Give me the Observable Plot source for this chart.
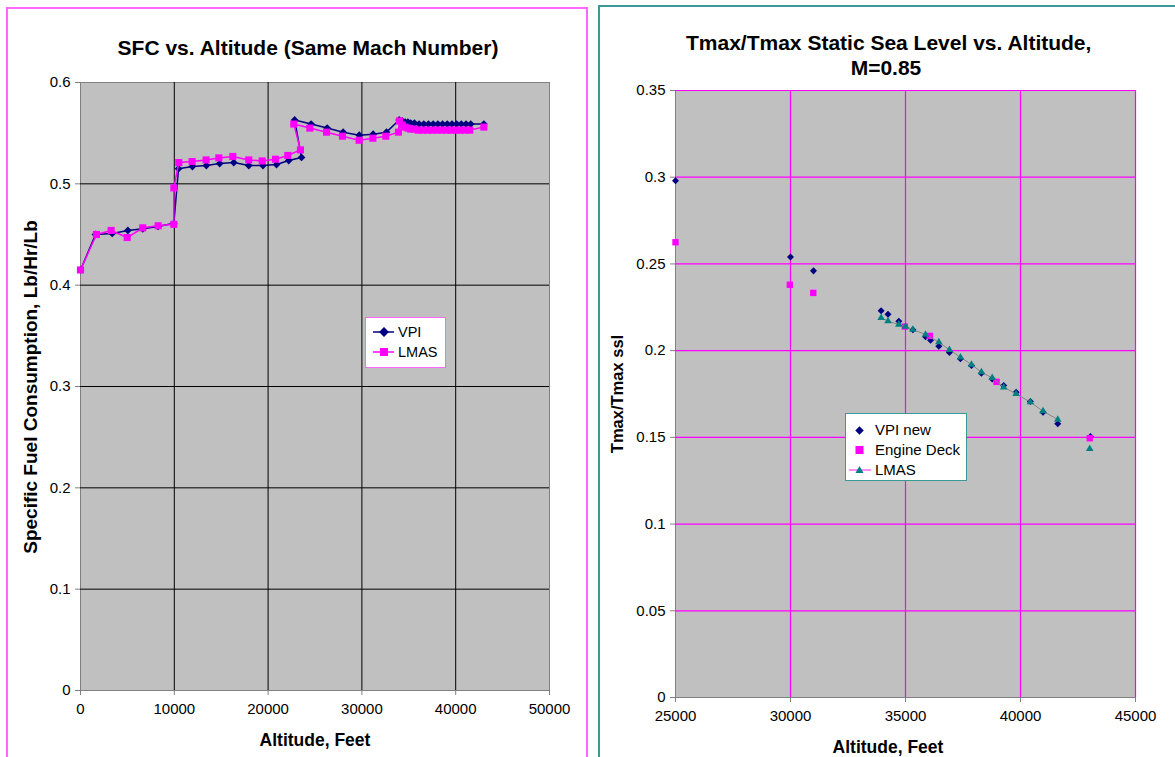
<!DOCTYPE html>
<html><head><meta charset="utf-8">
<script src="https://cdn.jsdelivr.net/npm/d3@7"></script>
<script src="https://cdn.jsdelivr.net/npm/@observablehq/plot@0.6"></script>
<style>
body{margin:0;background:#fff;font-family:"Liberation Sans",Arial,sans-serif;color:#000;}
#page{position:relative;width:1175px;height:757px;overflow:hidden;}
.panel{position:absolute;box-sizing:border-box;}
.title{position:absolute;font-weight:bold;font-size:21px;text-align:center;white-space:nowrap;line-height:25px;}
.alabel{position:absolute;font-weight:bold;font-size:17.5px;white-space:nowrap;line-height:22px;text-align:center;}
.chart{position:absolute;top:0;}
.legend{position:absolute;background:#fff;box-sizing:border-box;}
.legend span{position:absolute;white-space:nowrap;line-height:18px;}
.legend svg{position:absolute;left:0;top:0;}
</style></head>
<body><div id="page">
<div class="panel" style="left:6px;top:7px;width:582px;height:800px;border:2px solid #ff66ff;"></div>
<div class="panel" style="left:598px;top:5px;width:650px;height:800px;border:2px solid #3a9a9a;"></div>
<div id="left" class="chart" style="left:0;"></div>
<div id="right" class="chart" style="left:600px;"></div>
<div class="title" style="left:108px;width:400px;top:35px;">SFC vs. Altitude (Same Mach Number)</div>
<div class="title" style="left:686px;width:400px;top:30px;">Tmax/Tmax Static Sea Level vs. Altitude,<br>M=0.85</div>
<div class="alabel" style="left:215px;width:200px;top:729px;">Altitude, Feet</div>
<div class="alabel" style="left:788px;width:200px;top:736px;">Altitude, Feet</div>
<div class="alabel" style="left:-169px;width:400px;top:376px;transform:rotate(-90deg);font-size:19px;">Specific Fuel Consumption, Lb/Hr/Lb</div>
<div class="alabel" style="left:517px;width:200px;top:383px;transform:rotate(-90deg);font-size:16.5px;">Tmax/Tmax ssl</div>
<div class="legend" style="left:365px;top:317px;width:81px;height:51px;border:1px solid #ff66ff;font-size:14.5px;">
  <svg width="81" height="51">
    <line x1="7" x2="28" y1="14" y2="14" stroke="#000080" stroke-width="1.5"/>
    <rect x="14.5" y="10.5" width="7" height="7" fill="#000080" transform="rotate(45 18 14)"/>
    <line x1="7" x2="28" y1="34" y2="34" stroke="#ff00ff" stroke-width="1.5"/>
    <rect x="14" y="30" width="8" height="8" fill="#ff00ff"/>
  </svg>
  <span style="left:32px;top:5px;">VPI</span>
  <span style="left:32px;top:25px;">LMAS</span>
</div>
<div class="legend" style="left:845px;top:413px;width:122px;height:68px;border:1px solid #3a9a9a;font-size:15px;">
  <svg width="122" height="68">
    <rect x="10.5" y="13.5" width="6" height="6" fill="#000080" transform="rotate(45 13.5 16.5)"/>
    <rect x="9.5" y="32" width="8" height="8" fill="#ff00ff"/>
    <line x1="3" x2="25" y1="56" y2="56" stroke="#ff66ff" stroke-width="1.5"/>
    <path d="M13.5,52 L17.5,59 L9.5,59 Z" fill="#008080"/>
  </svg>
  <span style="left:29px;top:7px;">VPI new</span>
  <span style="left:29px;top:27px;">Engine Deck</span>
  <span style="left:29px;top:47px;">LMAS</span>
</div>
</div>
<script>
// ---- Left chart: SFC vs Altitude ----
const sfcXTicks = [0, 10000, 20000, 30000, 40000, 50000];
const sfcYTicks = [0, 0.1, 0.2, 0.3, 0.4, 0.5, 0.6];
const sfcVpiAlt = [0,1600,3380,5050,6640,8280,9950,10450,11930,13420,14840,16340,17940,19450,20900,22200,23560,22830,24590,26300,28000,29720,31200,32620,33970,34300,34600,34900,35200,35600,36100,36600,37100,37600,38100,38600,39100,39600,40100,40600,41100,41600,43000];
const sfcVpi = [0.415,0.450,0.451,0.454,0.4556,0.458,0.461,0.515,0.517,0.518,0.520,0.521,0.518,0.518,0.519,0.523,0.526,0.563,0.559,0.555,0.551,0.548,0.549,0.551,0.563,0.562,0.561,0.561,0.560,0.560,0.559,0.559,0.559,0.559,0.559,0.559,0.559,0.559,0.559,0.559,0.559,0.559,0.559];
const sfcLmasAlt = [0,1700,3270,4980,6640,8280,9950,9950,10480,11900,13390,14750,16240,17940,19370,20790,22100,23450,22740,24450,26230,27930,29710,31170,32550,33900,34000,34300,34600,34900,35200,35600,36000,36500,37000,37500,38000,38500,39000,39500,40000,40500,41000,41500,43000];
const sfcLmas = [0.415,0.450,0.454,0.447,0.4566,0.4586,0.460,0.496,0.521,0.522,0.5236,0.5256,0.527,0.5236,0.5226,0.5243,0.528,0.5335,0.559,0.555,0.551,0.547,0.543,0.545,0.547,0.551,0.562,0.558,0.556,0.555,0.554,0.554,0.553,0.553,0.553,0.553,0.553,0.553,0.553,0.553,0.553,0.553,0.553,0.553,0.556];

// ---- Right chart: Tmax ratio vs Altitude ----
const tXTicks = [25000, 30000, 35000, 40000, 45000];
const tYTicks = [0, 0.05, 0.1, 0.15, 0.2, 0.25, 0.3, 0.35];
const tVpiAlt = [25000,30000,31000,33940,34240,34710,35320,35870,36090,36450,36910,37390,37870,38300,38770,39270,39810,40430,40980,41620,43040];
const tVpi = [0.298,0.254,0.246,0.223,0.221,0.217,0.212,0.208,0.206,0.2026,0.199,0.1953,0.1914,0.187,0.1837,0.1799,0.176,0.1707,0.1645,0.1578,0.1505];
const tDeckAlt = [25000,29970,30990,34970,36060,38960,43010];
const tDeck = [0.2625,0.238,0.2333,0.2139,0.2085,0.182,0.1495];
const tLmasAlt = [33940,34240,34710,35000,35320,35870,36450,36910,37390,37870,38300,38770,39270,39810,40430,40980,41620,43010];
const tLmas = [0.2189,0.217,0.2151,0.2139,0.2122,0.2093,0.2049,0.2005,0.1962,0.192,0.1876,0.1843,0.1789,0.1751,0.1703,0.1651,0.1603,0.1434];

const zip = (xs, ys) => xs.map((x, i) => ({x, y: ys[i]}));
const fmt = d => String(d);
const font = {fontFamily: "'Liberation Sans', Arial, sans-serif", fontSize: "15px", background: "transparent", color: "#000", overflow: "visible"};

const vpiL = zip(sfcVpiAlt, sfcVpi), lmasL = zip(sfcLmasAlt, sfcLmas);
const left = Plot.plot({
  width: 590, height: 757,
  marginLeft: 80, marginRight: 41, marginTop: 82, marginBottom: 67,
  x: {domain: [0, 50000]},
  y: {domain: [0, 0.6]},
  style: font,
  marks: [
    Plot.frame({fill: "#c0c0c0", stroke: "#808080"}),
    Plot.ruleX(sfcXTicks.slice(1, -1), {stroke: "#000", strokeWidth: 1}),
    Plot.ruleY(sfcYTicks.slice(1, -1), {stroke: "#000", strokeWidth: 1}),
    Plot.axisX(sfcXTicks, {tickSize: 5, tickPadding: 8, tickFormat: fmt, stroke: "#808080", fill: "#000", label: null}),
    Plot.axisY(sfcYTicks, {tickSize: 5, tickPadding: 5, tickFormat: fmt, stroke: "#808080", fill: "#000", label: null}),
    Plot.line(vpiL, {x: "x", y: "y", stroke: "#000080", strokeWidth: 1.5}),
    Plot.dot(vpiL, {x: "x", y: "y", symbol: "square", rotate: 45, r: 3.1, fill: "#000080"}),
    Plot.line(lmasL, {x: "x", y: "y", stroke: "#ff00ff", strokeWidth: 1.5}),
    Plot.dot(lmasL, {x: "x", y: "y", symbol: "square", r: 4, fill: "#ff00ff"})
  ]
});
document.getElementById("left").appendChild(left);

const vpiR = zip(tVpiAlt, tVpi), deckR = zip(tDeckAlt, tDeck), lmasR = zip(tLmasAlt, tLmas);
const right = Plot.plot({
  width: 575, height: 757,
  marginLeft: 75, marginRight: 40, marginTop: 90, marginBottom: 60,
  x: {domain: [25000, 45000]},
  y: {domain: [0, 0.35]},
  style: font,
  marks: [
    Plot.frame({fill: "#c0c0c0", stroke: "#808080"}),
    Plot.ruleX(tXTicks.slice(1), {stroke: "#ff00ff", strokeWidth: 1.2}),
    Plot.ruleY(tYTicks.slice(1), {stroke: "#ff00ff", strokeWidth: 1.2}),
    Plot.axisX(tXTicks, {tickSize: 5, tickPadding: 8, tickFormat: fmt, stroke: "#808080", fill: "#000", label: null}),
    Plot.axisY(tYTicks, {tickSize: 5, tickPadding: 5, tickFormat: fmt, stroke: "#808080", fill: "#000", label: null}),
    Plot.dot(vpiR, {x: "x", y: "y", symbol: "square", rotate: 45, r: 2.8, fill: "#000080"}),
    Plot.dot(deckR, {x: "x", y: "y", symbol: "square", r: 3.6, fill: "#ff00ff"}),
    Plot.line(lmasR.filter(d => d.x < 42000), {x: "x", y: "y", stroke: "#858585", strokeWidth: 1}),
    Plot.dot(lmasR, {x: "x", y: "y", symbol: "triangle", r: 2.8, fill: "#008080"})
  ]
});
document.getElementById("right").appendChild(right);
</script>
</body></html>
